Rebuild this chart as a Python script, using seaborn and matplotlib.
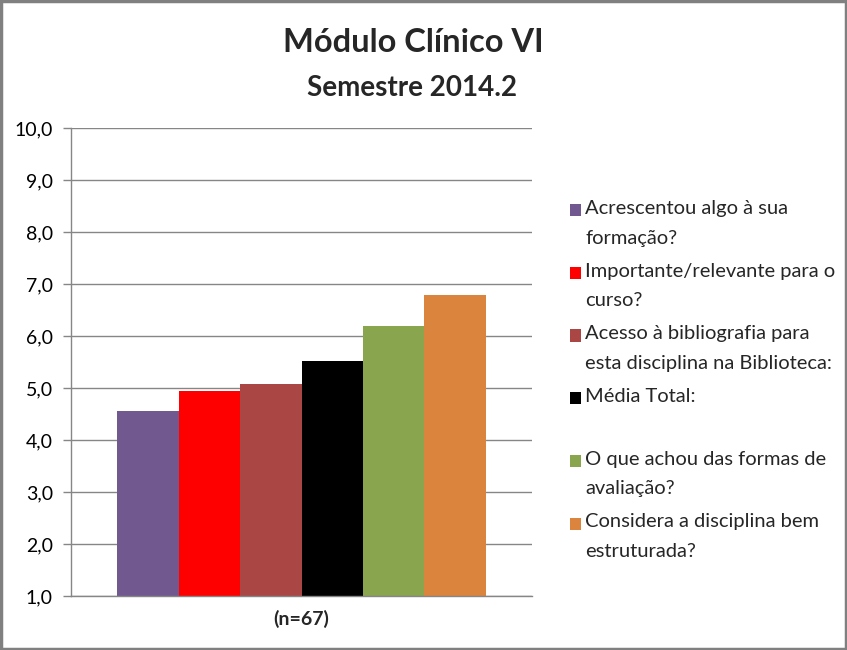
import matplotlib
matplotlib.use("Agg")
import matplotlib.pyplot as plt
import seaborn as sns
import pandas as pd
from matplotlib.patches import Rectangle
from matplotlib.ticker import FuncFormatter

categories = [
    "Acrescentou algo à sua\nformação?",
    "Importante/relevante para o\ncurso?",
    "Acesso à bibliografia para\nesta disciplina na Biblioteca:",
    "Média Total:\n ",
    "O que achou das formas de\navaliação?",
    "Considera a disciplina bem\nestruturada?",
]
values = [4.56, 4.95, 5.08, 5.51, 6.20, 6.79]
colors = ["#71588F", "#FF0000", "#AA4643", "#000000", "#89A54E", "#DB843D"]
group_label = "(n=67)"
yticks = [1, 2, 3, 4, 5, 6, 7, 8, 9, 10]

sns.set_theme(style="white")
plt.rcParams["font.family"] = ["Lato", "DejaVu Sans"]

df = pd.DataFrame({"grupo": [group_label] * len(categories),
                   "item": categories, "valor": values})

fig = plt.figure(figsize=(8.47, 6.5), dpi=100)
ax = fig.add_axes([71 / 847, 1 - 596 / 650, (532 - 71) / 847, (596 - 128) / 650])

sns.barplot(data=df, x="grupo", y="valor", hue="item", hue_order=categories,
            palette=colors, ax=ax, saturation=1, width=0.8, legend=True)
for p in ax.patches:
    p.set_edgecolor("none")
    p.set_linewidth(0)

ax.set_ylim(1, 10)
ax.set_xlim(-0.5, 0.5)
ax.set_yticks(yticks)
ax.yaxis.set_major_formatter(FuncFormatter(lambda v, _: f"{v:.1f}".replace(".", ",")))
ax.set_xlabel("")
ax.set_ylabel("")
ax.grid(axis="y", color="#868686", linewidth=1)
ax.set_axisbelow(True)
for s in ["top", "right"]:
    ax.spines[s].set_visible(False)
for s in ["left", "bottom"]:
    ax.spines[s].set_color("#868686")
    ax.spines[s].set_linewidth(1)
ax.tick_params(axis="y", which="major", left=True, length=6, width=1,
               color="#868686", labelsize=14, labelcolor="black", pad=7)
ax.tick_params(axis="x", bottom=False, labelsize=14, pad=4)
for t in ax.get_xticklabels():
    t.set_fontweight("bold")

handles, labels = ax.get_legend_handles_labels()
ax.legend_.remove()
leg = fig.legend(handles, labels, loc="center left", bbox_to_anchor=(562 / 847, 1 - 380 / 650),
                 frameon=False, fontsize=14.5, handlelength=0.55, handleheight=0.55,
                 handletextpad=0.2, labelspacing=0.8, borderaxespad=0)
for t in leg.get_texts():
    t.set_linespacing(1.9)
for h in leg.legend_handles:
    h.set_y(h.get_y() + 9.4)

fig.text(413 / 847, 1 - 43 / 650, "Módulo Clínico VI", ha="center", va="center",
         fontsize=23.5, fontweight="bold")
fig.text(412 / 847, 1 - 88 / 650, "Semestre 2014.2", ha="center", va="center",
         fontsize=20, fontweight="bold")

fig.patches.append(Rectangle((0.0015, 0.002), 0.997, 0.996, transform=fig.transFigure,
                             fill=False, edgecolor="#808080", linewidth=2.5))

fig.savefig("out.png", dpi=100, facecolor="white")
